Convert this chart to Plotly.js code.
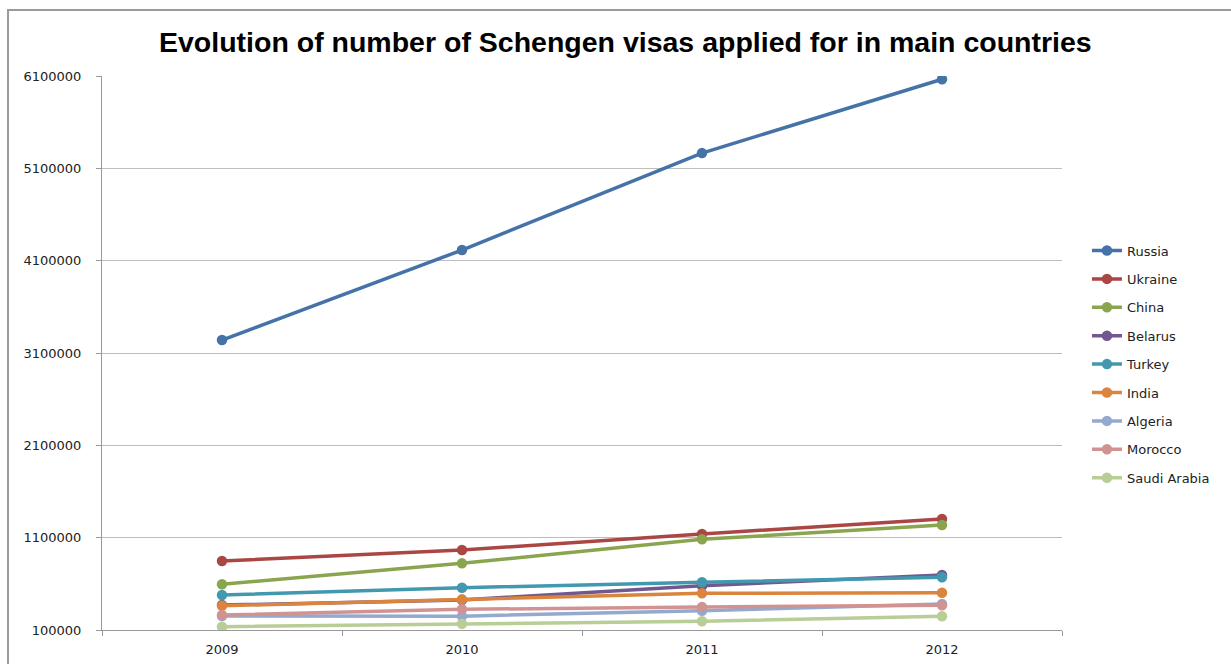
<!DOCTYPE html>
<html>
<head>
<meta charset="utf-8">
<script src="https://cdn.plot.ly/plotly-3.0.1.min.js"></script>
<style>
  html, body { margin: 0; padding: 0; background: #fff; }
  #frame { position: absolute; left: 7px; top: 9px; width: 1300px; height: 700px;
           border-left: 2px solid #9a9a9a; border-top: 2px solid #9a9a9a; }
  #myDiv { position: absolute; left: 0; top: 0; width: 1231px; height: 664px; }
</style>
</head>
<body>
<div id="frame"></div>
<div id="myDiv"></div>
<script>
// Years on the x axis
const years = ['2009', '2010', '2011', '2012'];

// Visa applications per country
const russia = [3240000, 4215000, 5265000, 6065000];
const ukraine = [847000, 966000, 1140000, 1302000];
const china = [595000, 822000, 1082000, 1237000];
const belarus = [370000, 425000, 580000, 696000];
const turkey = [479000, 558000, 617000, 671000];
const india = [363000, 432000, 497000, 504000];
const algeria = [252000, 250000, 309000, 382000];
const morocco = [262000, 324000, 349000, 367000];
const saudiArabia = [136000, 168000, 194000, 248000];

const series = [
    { name: 'Russia', values: russia, color: '#4572A7' },
    { name: 'Ukraine', values: ukraine, color: '#AA4643' },
    { name: 'China', values: china, color: '#89A54E' },
    { name: 'Belarus', values: belarus, color: '#71588F' },
    { name: 'Turkey', values: turkey, color: '#4198AF' },
    { name: 'India', values: india, color: '#DB843D' },
    { name: 'Algeria', values: algeria, color: '#93A9CF' },
    { name: 'Morocco', values: morocco, color: '#D19392' },
    { name: 'Saudi Arabia', values: saudiArabia, color: '#B9CD96' }
];

const data = series.map(s => ({
    x: years,
    y: s.values,
    type: 'scatter',
    mode: 'lines+markers',
    name: s.name,
    legendgroup: s.name,
    line: { color: s.color, width: 3.5 },
    marker: { color: s.color, size: 10.5 }
}));

const layout = {
    width: 1231,
    height: 664,
    paper_bgcolor: 'rgba(0,0,0,0)',
    plot_bgcolor: 'rgba(0,0,0,0)',
    margin: { l: 102, r: 169, t: 76, b: 34 },
    font: { family: 'DejaVu Sans, sans-serif', size: 13, color: '#222' },
    title: {
        text: '<b>Evolution of number of Schengen visas applied for in main countries</b>',
        font: { family: 'Liberation Sans, Arial, sans-serif', size: 28.5, color: '#000' },
        x: 0.508, xanchor: 'center',
        y: 0.937, yanchor: 'middle'
    },
    xaxis: {
        type: 'category',
        range: [-0.5, 3.5],
        tickson: 'boundaries',
        ticks: 'outside',
        ticklen: 5,
        tickcolor: '#999',
        ticklabelstandoff: 7,
        showline: true,
        linecolor: '#999',
        linewidth: 1,
        showgrid: false,
        zeroline: false,
        tickfont: { size: 13 }
    },
    yaxis: {
        range: [100000, 6100000],
        tick0: 100000,
        dtick: 1000000,
        tickformat: 'd',
        ticks: 'outside',
        ticklen: 5,
        tickcolor: '#999',
        ticklabelstandoff: 12,
        showline: true,
        linecolor: '#999',
        linewidth: 1,
        gridcolor: '#bdbdbd',
        zeroline: false,
        tickfont: { size: 13 }
    },
    showlegend: true,
    legend: {
        x: 1.026,
        xanchor: 'left',
        y: 0.712,
        yanchor: 'top',
        traceorder: 'grouped',
        tracegroupgap: 8.5,
        font: { size: 13, color: '#222' },
        bgcolor: 'rgba(0,0,0,0)'
    }
};

Plotly.newPlot('myDiv', data, layout, { displayModeBar: false });
</script>
</body>
</html>
